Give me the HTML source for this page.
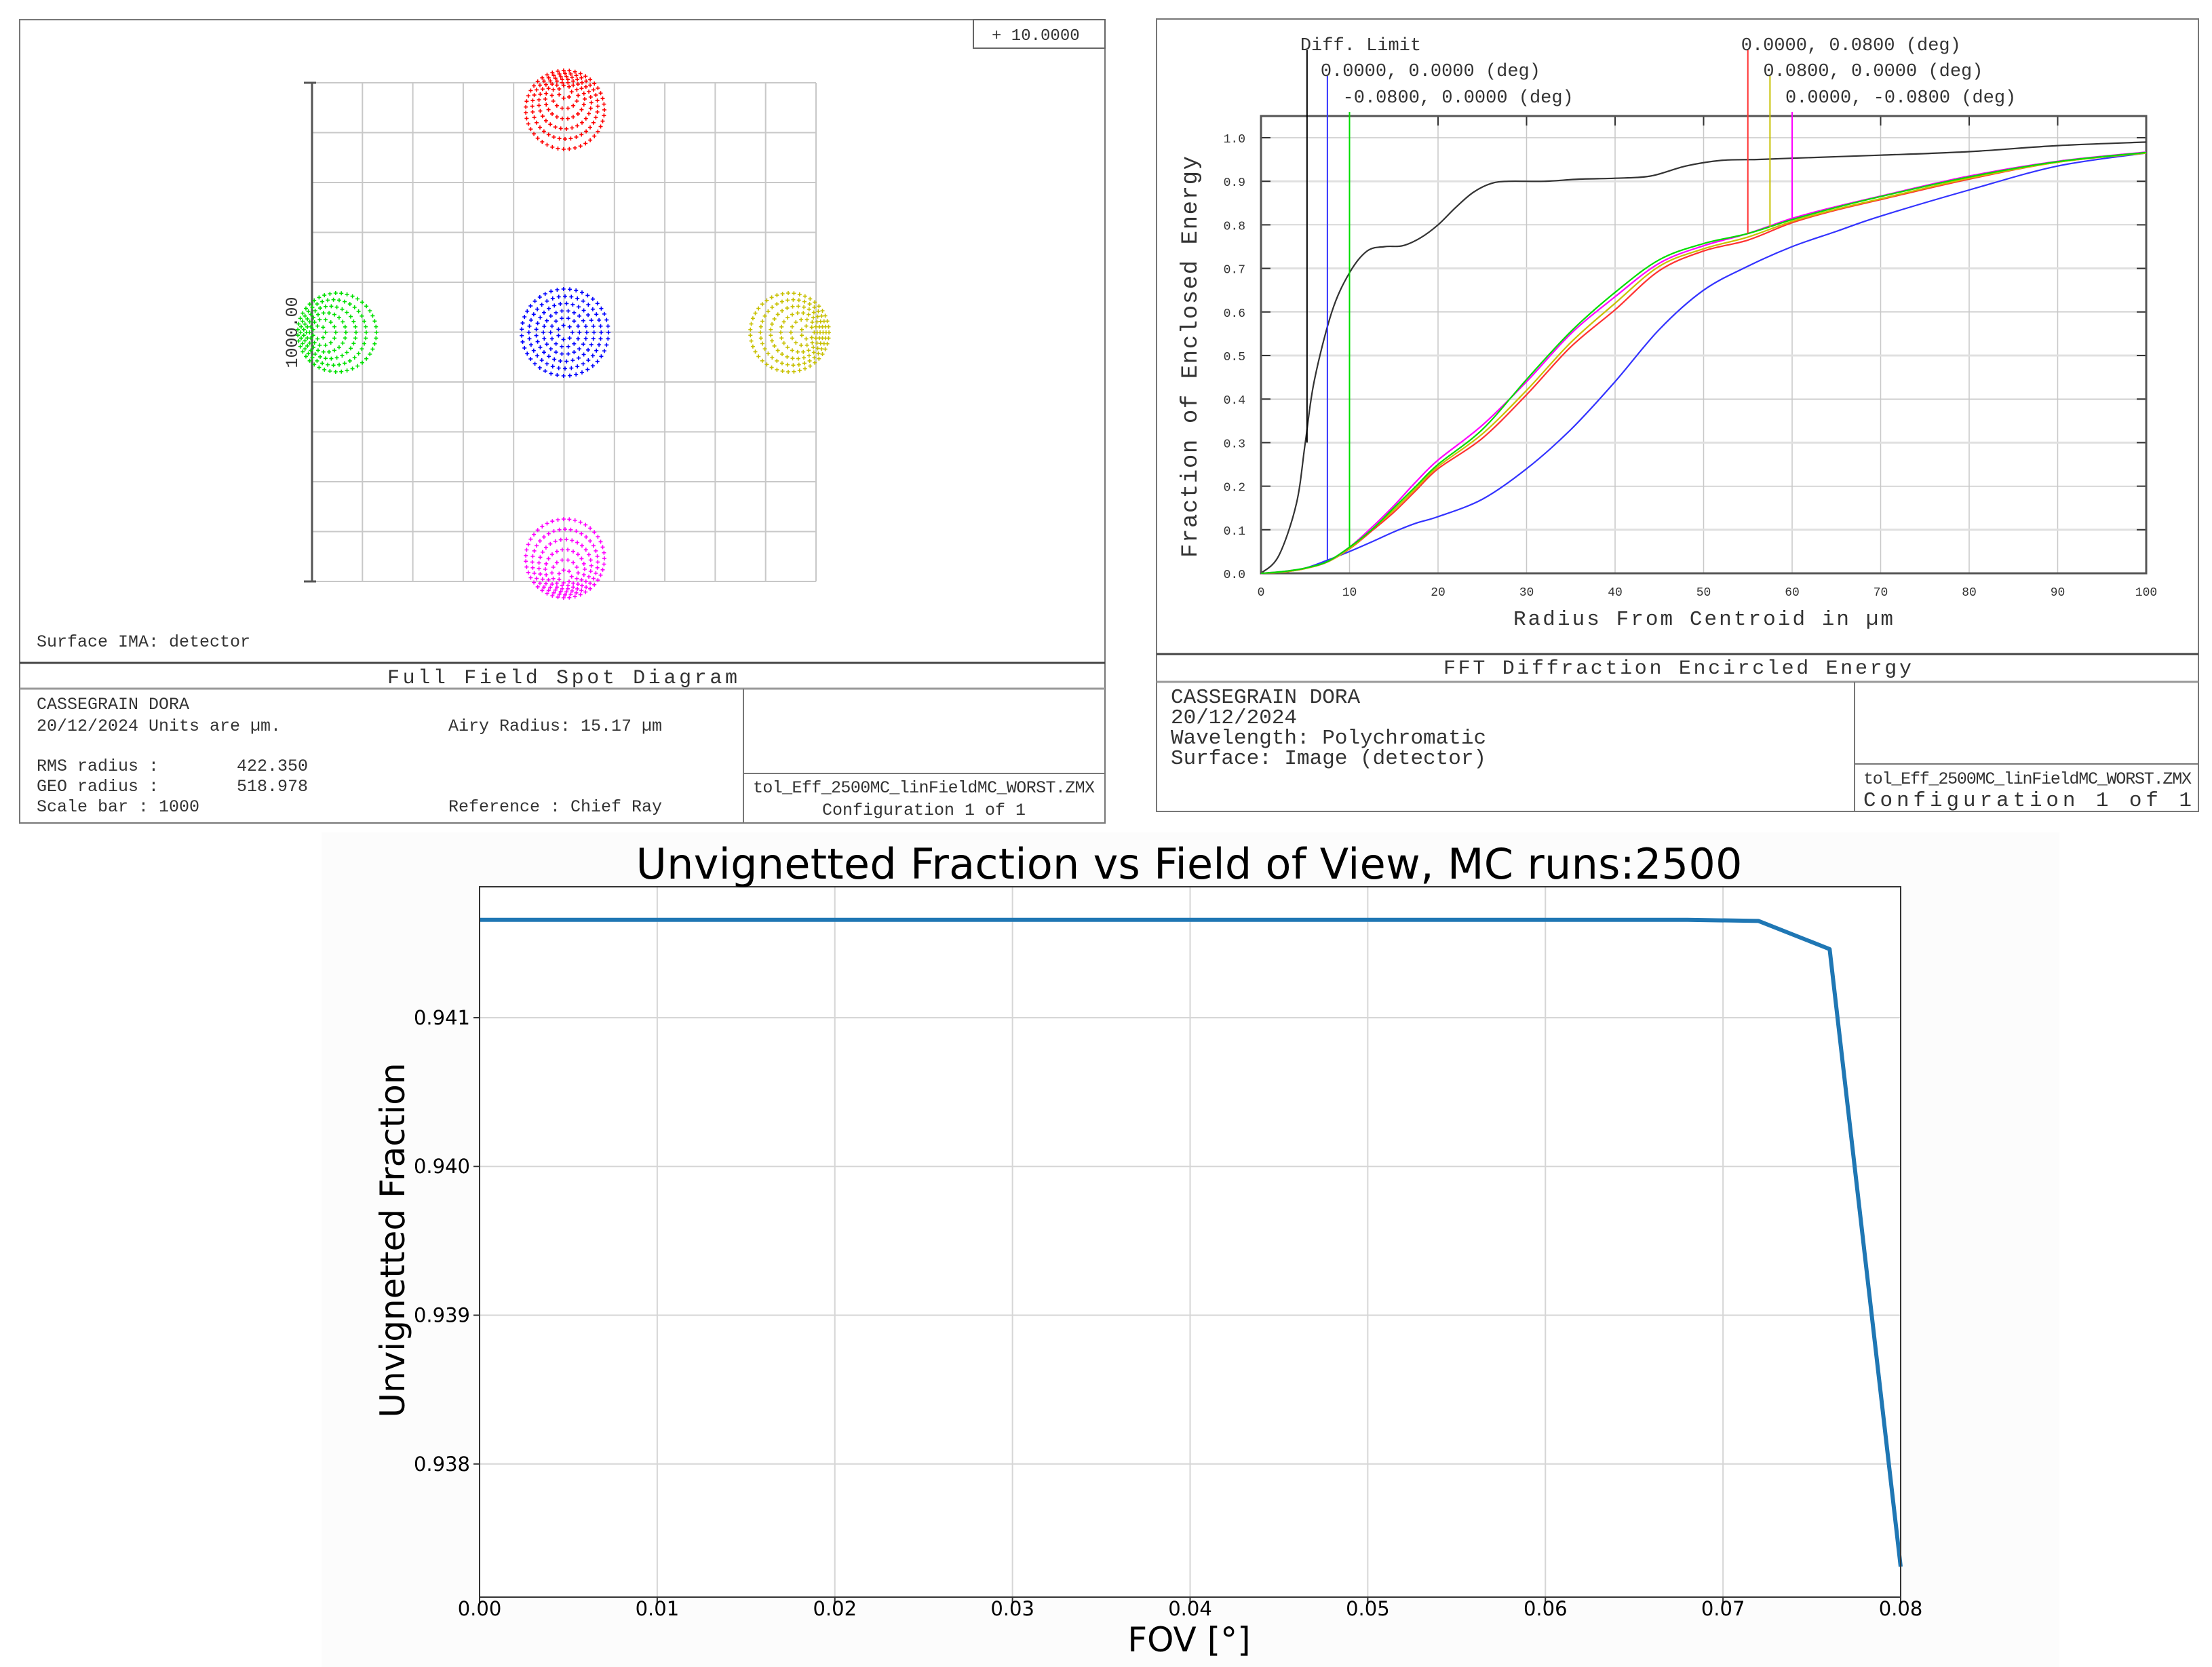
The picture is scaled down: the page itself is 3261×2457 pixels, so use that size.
<!DOCTYPE html>
<html><head><meta charset="utf-8"><style>
html,body{margin:0;padding:0;background:#fff;}
svg{display:block;}
.m{font-family:"Liberation Mono",monospace;fill:#333;}
.d{font-family:"DejaVu Sans","Liberation Sans",sans-serif;fill:#000;}
</style></head><body>
<svg id="root" width="3261" height="2457" viewBox="0 0 3261 2457" xmlns="http://www.w3.org/2000/svg">
<rect x="0" y="0" width="3261" height="2457" fill="#fff"/>
<g id="spot">
<rect x="29" y="29" width="1600" height="1184" fill="#fff" stroke="#777" stroke-width="2"/>
<rect x="1435" y="29" width="194" height="42" fill="#fff" stroke="#666" stroke-width="2"/>
<text class="m" x="1462" y="59" font-size="24">+ 10.0000</text>
<g id="spotgrid"></g>
<g id="spots"></g>
<text class="m" x="0" y="0" font-size="25" transform="translate(438,490) rotate(-90)" text-anchor="middle">1000.00</text>
<text class="m" x="54" y="953" font-size="25">Surface IMA: detector</text>
<line x1="29" y1="977" x2="1629" y2="977" stroke="#444" stroke-width="3"/>
<text class="m" x="829" y="1007" font-size="30" text-anchor="middle" textLength="516">Full Field Spot Diagram</text>
<line x1="29" y1="1015" x2="1629" y2="1015" stroke="#999" stroke-width="3"/>
<line x1="1096" y1="1015" x2="1096" y2="1213" stroke="#777" stroke-width="2"/>
<line x1="1096" y1="1140" x2="1629" y2="1140" stroke="#777" stroke-width="2"/>
<g class="m" font-size="25">
<text x="54" y="1045">CASSEGRAIN DORA</text>
<text x="54" y="1077">20/12/2024  Units are µm.</text>
<text x="661" y="1077">Airy Radius: 15.17 µm</text>
<text x="54" y="1136">RMS radius :</text><text x="349" y="1136">422.350</text>
<text x="54" y="1166">GEO radius :</text><text x="349" y="1166">518.978</text>
<text x="54" y="1196">Scale bar  : 1000</text>
<text x="661" y="1196">Reference  : Chief Ray</text>
<text x="1362" y="1168" text-anchor="middle" textLength="504">tol_Eff_2500MC_linFieldMC_WORST.ZMX</text>
<text x="1362" y="1201" text-anchor="middle">Configuration 1 of 1</text>
</g>
</g>
<g id="ee">
<rect x="1705" y="28" width="1536" height="1168" fill="#fff" stroke="#777" stroke-width="2"/>
<g id="eegrid"></g>
<g id="eecurves"></g>
<g id="eelegend"></g>
<text class="m" x="2511" y="921" font-size="31" text-anchor="middle" textLength="560">Radius From Centroid in µm</text>
<text class="m" x="0" y="0" font-size="34" text-anchor="middle" textLength="592" transform="translate(1764,526) rotate(-90)">Fraction of Enclosed Energy</text>
<line x1="1705" y1="964" x2="3241" y2="964" stroke="#444" stroke-width="3"/>
<text class="m" x="2473" y="993" font-size="30" text-anchor="middle" textLength="690">FFT Diffraction Encircled Energy</text>
<line x1="1705" y1="1005" x2="3241" y2="1005" stroke="#999" stroke-width="3"/>
<line x1="2734" y1="1005" x2="2734" y2="1196" stroke="#777" stroke-width="2"/>
<line x1="2734" y1="1126" x2="3241" y2="1126" stroke="#777" stroke-width="2"/>
<g class="m" font-size="31">
<text x="1726" y="1036">CASSEGRAIN DORA</text>
<text x="1726" y="1066">20/12/2024</text>
<text x="1726" y="1096">Wavelength: Polychromatic</text>
<text x="1726" y="1126">Surface: Image (detector)</text>
<text x="2989" y="1155" font-size="25" text-anchor="middle" textLength="484">tol_Eff_2500MC_linFieldMC_WORST.ZMX</text>
<text x="2989" y="1188" text-anchor="middle" textLength="484">Configuration 1 of 1</text>
</g>
</g>
<g id="uv">
<rect x="474" y="1227" width="2562" height="1230" fill="#fcfcfc"/>
<rect x="707" y="1307" width="2095" height="1047" fill="#fff"/>
<g id="uvgrid"></g>
<g id="uvline"></g>
<rect x="707" y="1307" width="2095" height="1047" fill="none" stroke="#333" stroke-width="2"/>
<text class="d" x="1753" y="1295" font-size="62" text-anchor="middle" textLength="1631">Unvignetted Fraction vs Field of View, MC runs:2500</text>
<text class="d" x="1753" y="2434" font-size="50" text-anchor="middle">FOV [°]</text>
<text class="d" x="0" y="0" font-size="50" text-anchor="middle" transform="translate(596,1828) rotate(-90)">Unvignetted Fraction</text>
</g>
</svg>
<script>
const NS='http://www.w3.org/2000/svg';
function mk(parent,tag,attrs){const e=document.createElementNS(NS,tag);for(const k in attrs)e.setAttribute(k,attrs[k]);parent.appendChild(e);return e;}

const spotFields=['0.0000, 0.0800','-0.0800, 0.0000','0.0000, 0.0000','0.0800, 0.0000','0.0000, -0.0800'];
const spotCx=[833,465,833,1196,833];
const spotCy=[130,490,490,490,855];
const spotColors=['#ff0000','#00e000','#0000ff','#c8c000','#ff00ff'];
const spotComaX=[0,1,0,-1,0];
const spotComaY=[1,0,0,0,-1];
(function(){
  const g=document.getElementById('spotgrid');
  const L=460,R=1203,T=122,B=857;
  for(let i=0;i<=10;i++){
    const x=L+(R-L)*i/10, y=T+(B-T)*i/10;
    const v=mk(g,'line',{x1:x,y1:T,x2:x,y2:B,stroke:'#c8c8c8','stroke-width':2});
    
    
    const h=mk(g,'line',{x1:L,y1:y,x2:R,y2:y,stroke:'#c8c8c8','stroke-width':2});
    
    
  }
  mk(g,'line',{x1:L,y1:T,x2:L,y2:B,stroke:'#555','stroke-width':3});
  mk(g,'line',{x1:L-12,y1:T,x2:L+6,y2:T,stroke:'#555','stroke-width':3});
  mk(g,'line',{x1:L-12,y1:B,x2:L+6,y2:B,stroke:'#555','stroke-width':3});
  const sg=document.getElementById('spots');
  for(let s=0;s<spotCx.length;s++){
    const grp=mk(sg,'g',{stroke:spotColors[s],'stroke-width':1.6});
    
    
    const coma=(spotComaX[s]||spotComaY[s])?1:0;
    const Rmax=coma?58:64;
    let d='';
    for(let k=1;k<=6;k++){
      const r=Rmax*k/6;
      const off=coma?r*0.55:0;
      const ox=spotCx[s]+spotComaX[s]*off, oy=spotCy[s]+spotComaY[s]*off;
      const n=Math.max(6,Math.round(6*k*1.2));
      for(let j=0;j<n;j++){
        const a=2*Math.PI*j/n;
        const px=ox+r*Math.cos(a), py=oy+r*Math.sin(a);
        d+=`M${(px-3).toFixed(1)} ${py.toFixed(1)}h6M${px.toFixed(1)} ${(py-3).toFixed(1)}v6`;
      }
    }
    mk(grp,'path',{d:d,fill:'none'});
  }
})();

const eeRadius=[0,2,4,5,6,8,10,12,14,16,18,20,22,24,26,28,32,36,40,44,48,52,56,60,70,80,90,100];
const eeDiff=[0,0.04,0.16,0.3,0.44,0.6,0.69,0.74,0.75,0.752,0.77,0.8,0.84,0.875,0.895,0.9,0.9,0.905,0.907,0.912,0.935,0.948,0.95,0.953,0.96,0.968,0.982,0.99];
const eeR2=[0,2.5,5,7.5,10,12.5,15,17.5,20,25,30,35,40,45,50,55,60,65,70,80,90,100];
const eeGreen=[0,0.004,0.012,0.027,0.06,0.1,0.15,0.2,0.25,0.33,0.445,0.555,0.645,0.72,0.757,0.78,0.812,0.84,0.865,0.91,0.945,0.966];
const eeMagenta=[0,0.004,0.012,0.027,0.06,0.105,0.155,0.21,0.26,0.34,0.44,0.55,0.635,0.712,0.752,0.78,0.815,0.842,0.866,0.912,0.946,0.967];
const eeYellow=[0,0.003,0.011,0.026,0.057,0.1,0.145,0.195,0.245,0.32,0.42,0.53,0.62,0.705,0.745,0.772,0.808,0.836,0.86,0.907,0.944,0.965];
const eeRed=[0,0.003,0.011,0.026,0.056,0.097,0.14,0.19,0.24,0.31,0.41,0.52,0.605,0.695,0.74,0.765,0.805,0.834,0.858,0.905,0.944,0.965];
const eeBlue=[0,0.003,0.012,0.03,0.05,0.072,0.095,0.115,0.13,0.17,0.24,0.33,0.44,0.56,0.65,0.705,0.75,0.785,0.82,0.88,0.935,0.965];
const eeYTicks=['0.0','0.1','0.2','0.3','0.4','0.5','0.6','0.7','0.8','0.9','1.0'];
const eeXTicks=['0','10','20','30','40','50','60','70','80','90','100'];
const eeLegend=['Diff. Limit','0.0000, 0.0000 (deg)','-0.0800, 0.0000 (deg)','0.0000, 0.0800 (deg)','0.0800, 0.0000 (deg)','0.0000, -0.0800 (deg)'];
const eeLegendR=[5.2,7.5,10,55,57.5,60];
const eeLegendE=[0.3,0.03,0.06,0.78,0.795,0.815];
const eeLegendColors=['#000','#3333ff','#00dd00','#ff3333','#c8c000','#ff00ff'];
const eeLegendRow=[0,1,2,0,1,2];
(function(){
  const X0=1859,X1=3164,Y0=845,Y1=203,FT=171;
  const sx=v=>X0+(X1-X0)*v/100, sy=v=>Y0+(Y1-Y0)*v;
  const g=document.getElementById('eegrid');
  for(let i=0;i<eeXTicks.length;i++){
    const v=+eeXTicks[i], x=sx(v);
    if(i>0&&i<eeXTicks.length-1){const l=mk(g,'line',{x1:x,y1:FT,x2:x,y2:Y0,stroke:'#c8c8c8','stroke-width':1.5});
      }
    mk(g,'line',{x1:x,y1:FT,x2:x,y2:FT+14,stroke:'#333','stroke-width':2});
    const t=mk(g,'text',{x:x,y:878,'font-size':18,'text-anchor':'middle',class:'m',fill:'#555'});
    t.textContent=eeXTicks[i];
    
  }
  for(let i=0;i<eeYTicks.length;i++){
    const v=+eeYTicks[i], y=sy(v);
    const l=mk(g,'line',{x1:X0,y1:y,x2:X1,y2:y,stroke:(i%2?'#e0e0e0':'#c8c8c8'),'stroke-width':(i%2?3:1.5)});
    
    mk(g,'line',{x1:X0,y1:y,x2:X0+14,y2:y,stroke:'#333','stroke-width':2});
    mk(g,'line',{x1:X1-14,y1:y,x2:X1,y2:y,stroke:'#333','stroke-width':2});
    const t=mk(g,'text',{x:1836,y:y+7,'font-size':18,'text-anchor':'end',class:'m',fill:'#555'});
    t.textContent=eeYTicks[i];
    
  }
  mk(g,'rect',{x:X0,y:FT,width:X1-X0,height:Y0-FT,fill:'none',stroke:'#555','stroke-width':3});
  function path(xs,ys){
    const p=xs.map((v,i)=>[sx(v),sy(ys[i])]);
    let d=`M${p[0][0]} ${p[0][1]}`;
    for(let i=0;i<p.length-1;i++){
      const a=p[Math.max(0,i-1)],b=p[i],c=p[i+1],e=p[Math.min(p.length-1,i+2)];
      const c1=[b[0]+(c[0]-a[0])/6,b[1]+(c[1]-a[1])/6],c2=[c[0]-(e[0]-b[0])/6,c[1]-(e[1]-b[1])/6];
      d+=`C${c1[0].toFixed(1)} ${c1[1].toFixed(1)} ${c2[0].toFixed(1)} ${c2[1].toFixed(1)} ${c[0].toFixed(1)} ${c[1].toFixed(1)}`;
    }
    return d;
  }
  const cg=document.getElementById('eecurves');
  const series=[[eeRadius,eeDiff,'#333','ee-curve-diff-limit'],[eeR2,eeBlue,'#3333ff','ee-curve-0-0'],[eeR2,eeRed,'#ff3333','ee-curve-0-0.08'],[eeR2,eeYellow,'#c8c000','ee-curve-0.08-0'],[eeR2,eeMagenta,'#ff00ff','ee-curve-0--0.08'],[eeR2,eeGreen,'#00dd00','ee-curve--0.08-0']];
  series.forEach(s=>{
    const p=mk(cg,'path',{d:path(s[0],s[1]),fill:'none',stroke:s[2],'stroke-width':2.2});
    
    
  });
  const lg=document.getElementById('eelegend');
  const rowY=[64,102,141];
  for(let i=0;i<eeLegend.length;i++){
    const x=sx(eeLegendR[i]), top=rowY[eeLegendRow[i]]+10+(eeLegendRow[i]===2?14:0);
    const l=mk(lg,'line',{x1:x,y1:top,x2:x,y2:sy(eeLegendE[i]),stroke:eeLegendColors[i],'stroke-width':2});
    
    const t=mk(lg,'text',{x:x-10,y:rowY[eeLegendRow[i]]+10,'font-size':27,class:'m'});
    t.textContent=eeLegend[i];
    
  }
})();

const uvFov=[0,0.004,0.008,0.012,0.016,0.02,0.024,0.028,0.032,0.036,0.04,0.044,0.048,0.052,0.056,0.06,0.064,0.068,0.072,0.076,0.08];
const uvFrac=[0.941658,0.941658,0.941658,0.941658,0.941658,0.941658,0.941658,0.941658,0.941658,0.941658,0.941658,0.941658,0.941658,0.941658,0.941658,0.941658,0.941658,0.941658,0.941650,0.941461,0.937310];
const uvXTicks=['0.00','0.01','0.02','0.03','0.04','0.05','0.06','0.07','0.08'];
const uvYTicks=['0.938','0.939','0.940','0.941'];
(function(){
  const L=707,R=2802,T=1307,B=2354,xmin=0,xmax=0.08,ymin=0.937105,ymax=0.94188;
  const sx=v=>L+(R-L)*(v-xmin)/(xmax-xmin), sy=v=>B-(B-T)*(v-ymin)/(ymax-ymin);
  const g=document.getElementById('uvgrid');
  uvXTicks.forEach(s=>{const x=sx(+s);
    const l=mk(g,'line',{x1:x,y1:T,x2:x,y2:B,stroke:'#d6d6d6','stroke-width':2});
    
    mk(g,'line',{x1:x,y1:B,x2:x,y2:B+9,stroke:'#333','stroke-width':2});
    const t=mk(g,'text',{x:x,y:2381,'font-size':29,'text-anchor':'middle',class:'d'});t.textContent=s;
    
  });
  uvYTicks.forEach(s=>{const y=sy(+s);
    const l=mk(g,'line',{x1:L,y1:y,x2:R,y2:y,stroke:'#d6d6d6','stroke-width':2});
    
    mk(g,'line',{x1:L-9,y1:y,x2:L,y2:y,stroke:'#333','stroke-width':2});
    const t=mk(g,'text',{x:L-14,y:y+10,'font-size':29,'text-anchor':'end',class:'d'});t.textContent=s;
    
  });
  const lg=document.getElementById('uvline');
  const pts=uvFov.map((v,i)=>sx(v).toFixed(1)+','+sy(uvFrac[i]).toFixed(1)).join(' ');
  const pl=mk(lg,'polyline',{points:pts,fill:'none',stroke:'#1f77b4','stroke-width':6,'stroke-linejoin':'round'});
  
  
})();
</script>
</body></html>
